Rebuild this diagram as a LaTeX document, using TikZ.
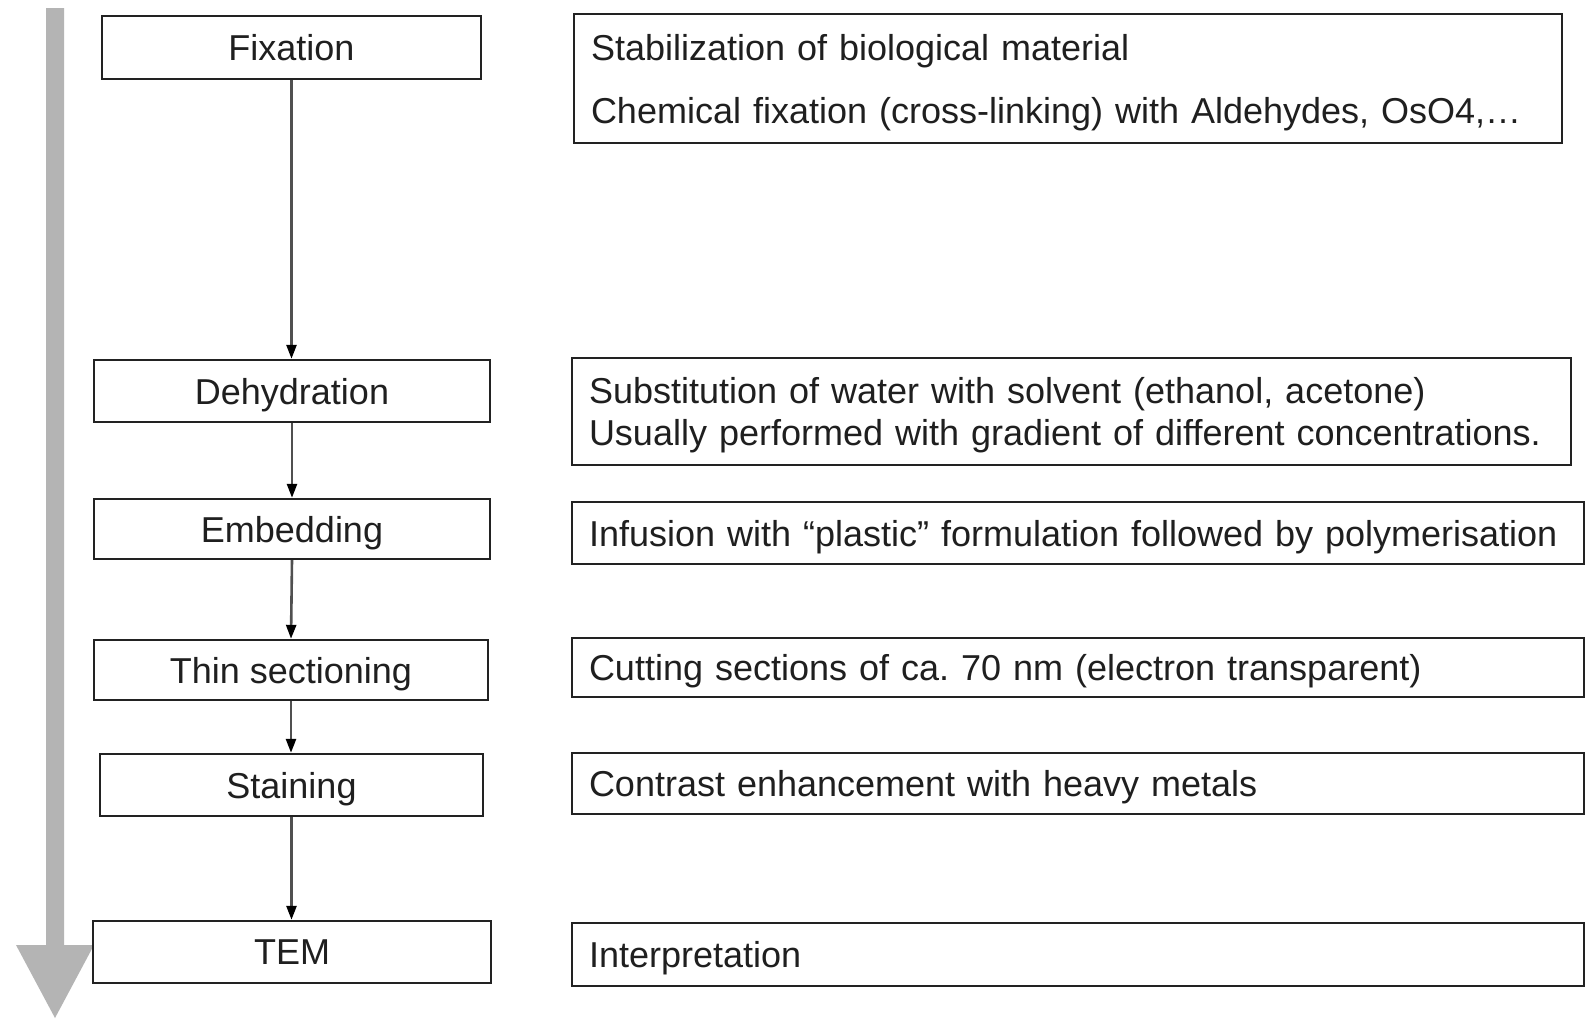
\documentclass[tikz,border=0pt]{standalone}
\usepackage{fontspec}
\setmainfont{Liberation Sans}
\usetikzlibrary{arrows.meta}
\definecolor{bigarrow}{HTML}{B4B4B4}
\definecolor{boxline}{HTML}{222222}
\definecolor{linkline}{HTML}{505050}
\begin{document}
\begin{tikzpicture}[x=1pt,y=-1pt,
  every node/.style={font=\fontsize{36}{42}\selectfont, text=black!88},
  stepbox/.style={draw=boxline, line width=2.4pt, fill=white, inner sep=0pt, align=center, text depth=0pt},
  notebox/.style={draw=boxline, line width=2.4pt, fill=white, inner xsep=17pt, inner ysep=0pt, align=left, text depth=0pt},
  link/.style={draw=linkline, line width=2.6pt, -{Triangle[length=14pt,width=10pt,fill=black,color=black]}}]
\useasboundingbox (0,0) rectangle (1585,1020);
\fill[white] (0,0) rectangle (1585,1020);

% overall direction of the workflow
\fill[bigarrow] (46,8) -- (64,8) -- (64,945) -- (94,945) -- (55,1018) -- (16,945) -- (46,945) -- cycle;

% procedure steps
\node[stepbox, minimum width=379pt, minimum height=63pt] (fix) at (291.5,47.5) {Fixation};
\node[stepbox, minimum width=396pt, minimum height=62pt] (deh) at (292,391) {Dehydration};
\node[stepbox, minimum width=396pt, minimum height=60pt] (emb) at (292,529) {Embedding};
\node[stepbox, minimum width=394pt, minimum height=60pt] (thin) at (291,670) {Thin sectioning};
\node[stepbox, minimum width=383pt, minimum height=62pt] (stain) at (291.5,785) {Staining};
\node[stepbox, minimum width=398pt, minimum height=62pt] (tem) at (292,952) {TEM};

% descriptions (two-line boxes keep the depth of the line stack only)
\node[notebox, text depth=63pt, minimum width=988pt, minimum height=129pt, text width=954pt] (dfix) at (1068,78.5)
  {Stabilization of biological material\\[21pt]Chemical fixation (cross-linking) with Aldehydes, OsO4,\dots};
\node[notebox, text depth=42pt, minimum width=999pt, minimum height=107pt, text width=965pt] (ddeh) at (1071.5,411.5)
  {Substitution of water with solvent (ethanol, acetone)\\Usually performed with gradient of different concentrations.};
\node[notebox, minimum width=1012pt, minimum height=62pt, text width=978pt] (demb) at (1078,533)
  {Infusion with “plastic” formulation followed by polymerisation};
\node[notebox, minimum width=1012pt, minimum height=59pt, text width=978pt] (dthin) at (1078,667.5)
  {Cutting sections of ca.\ 70 nm (electron transparent)};
\node[notebox, minimum width=1012pt, minimum height=61pt, text width=978pt] (dstain) at (1078,783.5)
  {Contrast enhancement with heavy metals};
\node[notebox, minimum width=1012pt, minimum height=63pt, text width=978pt] (dtem) at (1078,954.5)
  {Interpretation};

% connectors between steps
\draw[link] (fix.south) -- (fix.south |- deh.north);
\draw[link] (deh.south) -- (emb.north);
\draw[link] (emb.south) -- (thin.north);
\draw[link] (thin.south) -- (thin.south |- stain.north);
\draw[link] (stain.south) -- (stain.south |- tem.north);
\end{tikzpicture}
\end{document}
